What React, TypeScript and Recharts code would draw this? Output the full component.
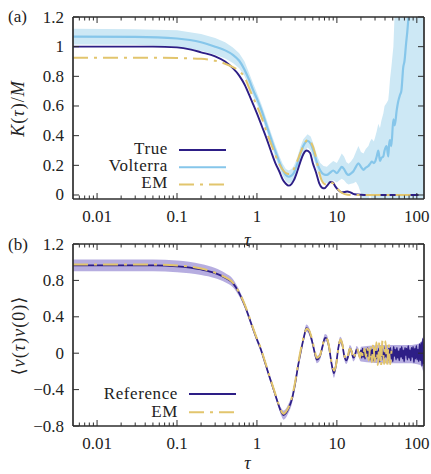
import React from 'react'
import { ComposedChart, Line, Area, XAxis, YAxis } from 'recharts'

// ---------- panel (a): kernel K(tau)/M ----------
const tauTrue = [0.005, 0.05, 0.1, 0.15, 0.2, 0.3, 0.4, 0.5, 0.6, 0.7, 0.8, 0.9, 1.0, 1.15, 1.3, 1.5, 1.7, 1.9, 2.1, 2.3, 2.5, 2.7, 2.9, 3.2, 3.5, 3.8, 4.2, 4.6, 5.0, 5.5, 6.0, 6.5, 7.0, 7.6, 8.3, 8.9, 9.5, 10.5, 11.5, 12.5, 13.5, 14.5, 16, 18, 22, 40, 70, 105]
const kTrue = [1.0, 1.0, 0.995, 0.98, 0.962, 0.935, 0.9, 0.855, 0.805, 0.745, 0.675, 0.61, 0.55, 0.465, 0.39, 0.295, 0.215, 0.16, 0.105, 0.076, 0.063, 0.074, 0.1, 0.16, 0.225, 0.275, 0.3, 0.285, 0.215, 0.15, 0.08, 0.05, 0.045, 0.065, 0.088, 0.085, 0.06, 0.032, 0.018, 0.02, 0.024, 0.02, 0.008, 0.003, 0, 0, 0, 0]

const tauVolterra = [0.005, 0.03, 0.1, 0.2, 0.3, 0.4, 0.5, 0.6, 0.7, 0.8, 0.9, 1.0, 1.15, 1.3, 1.5, 1.7, 1.9, 2.1, 2.3, 2.5, 2.7, 2.9, 3.2, 3.5, 3.8, 4.3, 4.7, 5.2, 5.7, 6.2, 6.8, 7.5, 8.2, 9.0, 10.0, 10.8, 11.5, 12.3, 13.2, 14.0, 15.0, 16.1, 17.3, 18.6, 20, 21.5, 23, 24.8, 26, 27.3, 29, 30.1, 31.5, 33, 34.6, 36, 38.1, 39.5, 41.9, 43.9, 45, 46.2, 48, 50.9, 53, 56, 58, 61.6, 64, 67.8, 70, 73.4, 76, 78.5, 82]
const kVolterra = [1.068, 1.066, 1.055, 1.03, 1.0, 0.975, 0.945, 0.905, 0.845, 0.775, 0.705, 0.65, 0.565, 0.48, 0.38, 0.295, 0.225, 0.17, 0.135, 0.123, 0.13, 0.15, 0.21, 0.28, 0.33, 0.365, 0.345, 0.28, 0.21, 0.165, 0.14, 0.135, 0.15, 0.165, 0.148, 0.17, 0.19, 0.175, 0.145, 0.135, 0.145, 0.16, 0.19, 0.214, 0.19, 0.17, 0.185, 0.196, 0.21, 0.225, 0.215, 0.225, 0.26, 0.3, 0.23, 0.25, 0.26, 0.3, 0.33, 0.26, 0.34, 0.37, 0.33, 0.51, 0.47, 0.57, 0.62, 0.674, 0.7, 0.865, 0.9, 1.02, 1.1, 1.19, 1.3]

const tauVolterraBand = [0.005, 0.03, 0.1, 0.2, 0.3, 0.4, 0.5, 0.6, 0.7, 0.8, 0.9, 1.0, 1.15, 1.3, 1.5, 1.7, 1.9, 2.1, 2.3, 2.5, 2.7, 2.9, 3.2, 3.5, 3.8, 4.3, 4.7, 5.2, 5.7, 6.2, 6.8, 7.5, 8.2, 9.0, 10.0, 10.8, 11.5, 12.3, 13.2, 14.0, 15.0, 16.1, 17.3, 18.6, 20, 21.5, 23, 24.8, 26, 27.3, 29, 30.1, 31.5, 33, 34.6, 36, 38.1, 39.5, 41.9, 43.9, 45, 46.2, 48, 50.9, 53, 56, 58, 61.6, 64, 67.8, 70, 73.4, 76, 78.5, 82, 90, 100, 110, 123]
const volterraLo = [1.015, 1.013, 1.0, 0.972, 0.945, 0.92, 0.89, 0.855, 0.8, 0.73, 0.66, 0.61, 0.525, 0.44, 0.34, 0.255, 0.185, 0.13, 0.092, 0.078, 0.085, 0.105, 0.165, 0.235, 0.285, 0.32, 0.3, 0.235, 0.16, 0.11, 0.085, 0.08, 0.09, 0.1, 0.085, 0.1, 0.11, 0.1, 0.08, 0.07, 0.075, 0.08, 0.09, 0.06, 0.01, -0.05, -0.05, -0.05, 0.02, -0.05, -0.05, -0.05, -0.05, -0.05, -0.05, -0.05, -0.05, -0.05, -0.05, -0.05, -0.05, -0.05, -0.05, -0.05, -0.05, -0.05, -0.05, -0.05, -0.05, -0.05, -0.05, -0.05, -0.05, -0.05, -0.05, -0.05, -0.05, -0.05, -0.05]
const volterraHi = [1.12, 1.118, 1.11, 1.085, 1.058, 1.03, 0.995, 0.955, 0.9, 0.82, 0.75, 0.69, 0.605, 0.52, 0.42, 0.335, 0.265, 0.21, 0.175, 0.165, 0.175, 0.195, 0.255, 0.325, 0.375, 0.41, 0.395, 0.33, 0.26, 0.215, 0.195, 0.19, 0.21, 0.23, 0.215, 0.25, 0.28, 0.26, 0.22, 0.21, 0.225, 0.25, 0.29, 0.33, 0.29, 0.28, 0.31, 0.33, 0.36, 0.38, 0.36, 0.39, 0.43, 0.48, 0.45, 0.5, 0.55, 0.6, 0.62, 0.64, 0.7, 0.78, 0.86, 1.0, 1.25, 1.3, 1.3, 1.3, 1.3, 1.3, 1.3, 1.3, 1.3, 1.3, 1.3, 1.3, 1.3, 1.3, 1.3]

const tauEMa = [0.005, 0.05, 0.1, 0.2, 0.3, 0.4, 0.5, 0.6, 0.7, 0.8, 0.9, 1.0, 1.15, 1.3, 1.5, 1.7, 1.9, 2.1, 2.3, 2.5, 2.7, 2.9, 3.2, 3.5, 3.8, 4.4, 4.8, 5.3, 5.8, 6.2, 6.8, 7.5, 8.3, 8.9, 9.6, 10.5, 11.5, 12.5, 15, 40, 95]
const kEMa = [0.925, 0.925, 0.923, 0.918, 0.905, 0.885, 0.862, 0.835, 0.795, 0.72, 0.655, 0.6, 0.52, 0.435, 0.345, 0.27, 0.21, 0.17, 0.148, 0.142, 0.15, 0.175, 0.23, 0.285, 0.33, 0.375, 0.35, 0.285, 0.19, 0.125, 0.08, 0.07, 0.083, 0.08, 0.055, 0.034, 0.015, 0.006, 0, 0, 0]

// ---------- panel (b): velocity autocorrelation ----------
const tauRef = [0.005, 0.05, 0.1, 0.2, 0.3, 0.4, 0.5, 0.6, 0.7, 0.8, 0.9, 1.0, 1.1, 1.25, 1.4, 1.55, 1.7, 1.85, 2.0, 2.15, 2.3, 2.5, 2.75, 3.0, 3.3, 3.6, 3.9, 4.15, 4.5, 4.9, 5.3, 5.6, 6.1, 6.6, 7.1, 7.5, 8.0, 8.6, 9.2, 9.8, 10.4, 11.0, 11.6, 12.3, 13.1, 13.8, 14.5, 15.3, 16.0, 16.8, 17.6, 18.5, 19.4]
const vRef = [0.965, 0.965, 0.955, 0.92, 0.88, 0.83, 0.77, 0.66, 0.53, 0.39, 0.26, 0.15, 0.06, -0.09, -0.23, -0.35, -0.46, -0.56, -0.64, -0.68, -0.66, -0.6, -0.5, -0.34, -0.12, 0.05, 0.19, 0.275, 0.24, 0.13, 0.0, -0.07, -0.04, 0.07, 0.17, 0.16, 0.06, -0.12, -0.22, -0.12, 0.05, 0.14, 0.11, -0.02, -0.08, -0.04, 0.05, 0.02, -0.05, -0.03, 0.04, 0.02, -0.04]

const tauRefNoise = [20.0, 20.5, 21.0, 21.5, 22.0, 22.5, 23.0, 23.6, 24.2, 24.8, 25.4, 26.0, 26.6, 27.2, 27.9, 28.5, 29.2, 29.9, 30.6, 31.3, 32.1, 32.8, 33.6, 34.4, 35.2, 36.0, 36.9, 37.8, 38.7, 39.6, 40.5, 41.5, 42.5, 43.5, 44.5, 45.6, 46.7, 47.8, 48.9, 50.1, 51.3, 52.5, 53.7, 55.0, 56.3, 57.6, 59.0, 60.4, 61.8, 63.3, 64.8, 66.3, 67.9, 69.5, 71.1, 72.8, 74.5, 76.3, 78.1, 80.0, 81.9, 83.8, 85.8, 87.8, 89.9, 92.0, 94.2, 96.4, 98.7, 101, 103.4, 105.8, 108.3, 110.9, 113.5, 116.2, 119, 121.8]
const vRefNoise = [0.03, -0.05, 0.05, -0.04, 0.02, -0.06, 0.04, -0.03, 0.06, -0.05, 0.01, -0.07, 0.05, -0.02, 0.04, -0.08, 0.03, -0.04, 0.07, -0.06, 0.02, -0.05, 0.05, -0.09, 0.04, -0.03, 0.06, -0.07, 0.01, -0.05, 0.08, -0.04, 0.03, -0.08, 0.05, -0.02, 0.06, -0.06, 0.02, -0.09, 0.07, -0.03, 0.04, -0.07, 0.06, -0.05, 0.02, -0.08, 0.05, -0.04, 0.07, -0.06, 0.03, -0.09, 0.06, -0.02, 0.05, -0.07, 0.08, -0.05, 0.03, -0.08, 0.06, -0.04, 0.07, -0.1, 0.05, -0.06, 0.08, -0.07, 0.04, -0.09, 0.1, -0.08, 0.12, -0.14, 0.16, -0.12]

const tauRefBand = [0.005, 0.05, 0.1, 0.2, 0.3, 0.4, 0.5, 0.6, 0.7, 0.8, 0.9, 1.0, 1.1, 1.25, 1.4, 1.55, 1.7, 1.85, 2.0, 2.15, 2.3, 2.5, 2.75, 3.0, 3.3, 3.6, 3.9, 4.15, 4.5, 4.9, 5.3, 5.6, 6.1, 6.6, 7.1, 7.5, 8.0, 8.6, 9.2, 9.8, 10.4, 11.0, 11.6, 12.3, 13.1, 13.8, 14.5, 15.3, 16.0, 16.8, 17.6, 18.5, 19.4, 20, 40, 80, 110, 121.8]
const refLo = [0.9, 0.9, 0.89, 0.86, 0.825, 0.78, 0.725, 0.625, 0.5, 0.36, 0.23, 0.12, 0.03, -0.12, -0.26, -0.38, -0.49, -0.59, -0.68, -0.73, -0.71, -0.65, -0.55, -0.38, -0.16, 0.01, 0.15, 0.235, 0.2, 0.09, -0.04, -0.11, -0.08, 0.03, 0.13, 0.12, 0.02, -0.16, -0.27, -0.16, 0.01, 0.1, 0.07, -0.06, -0.12, -0.08, 0.01, -0.02, -0.09, -0.07, 0.0, -0.02, -0.08, -0.09, -0.11, -0.11, -0.13, -0.22]
const refHi = [1.03, 1.03, 1.02, 0.98, 0.935, 0.88, 0.815, 0.695, 0.56, 0.42, 0.29, 0.18, 0.09, -0.06, -0.2, -0.32, -0.43, -0.53, -0.6, -0.63, -0.61, -0.55, -0.45, -0.28, -0.08, 0.09, 0.23, 0.315, 0.28, 0.17, 0.04, -0.03, 0.0, 0.11, 0.21, 0.2, 0.1, -0.08, -0.17, -0.08, 0.09, 0.18, 0.15, 0.02, -0.04, 0.0, 0.09, 0.06, -0.01, 0.01, 0.08, 0.06, 0.0, 0.07, 0.09, 0.09, 0.11, 0.2]

const tauEMb = [0.005, 0.05, 0.1, 0.2, 0.3, 0.4, 0.5, 0.6, 0.7, 0.8, 0.9, 1.0, 1.1, 1.25, 1.4, 1.55, 1.7, 1.85, 2.0, 2.15, 2.3, 2.5, 2.75, 3.0, 3.3, 3.6, 3.9, 4.2, 4.5, 4.9, 5.3, 5.6, 6.1, 6.6, 7.1, 7.6, 8.1, 8.7, 9.3, 9.9, 10.5, 11.1, 11.7, 12.3, 13.1, 13.8, 14.5, 15.3, 16.0, 16.8, 17.6, 18.5, 19.4, 20.3, 21.2, 22.2, 23.1, 24.0, 25.1, 26.2, 27.4, 28.6, 29.9, 31.2, 32.6, 34.1, 35.6, 37.2, 38.9, 40.6, 42.4, 44.3, 46.3, 48.4]
const vEMb = [0.975, 0.975, 0.965, 0.93, 0.885, 0.835, 0.775, 0.665, 0.54, 0.4, 0.27, 0.16, 0.07, -0.08, -0.22, -0.34, -0.45, -0.55, -0.63, -0.665, -0.645, -0.59, -0.48, -0.32, -0.1, 0.07, 0.2, 0.27, 0.25, 0.15, 0.02, -0.05, -0.03, 0.08, 0.17, 0.15, 0.04, -0.13, -0.19, -0.1, 0.07, 0.15, 0.1, -0.01, -0.07, -0.02, 0.05, 0.02, -0.06, -0.02, 0.05, 0.02, -0.05, 0.04, -0.04, 0.05, -0.04, 0.06, -0.08, 0.09, -0.1, 0.11, -0.12, 0.12, -0.13, 0.13, -0.14, 0.14, -0.12, 0.13, -0.15, 0.1, -0.12, 0.05]

// ---------- axes ----------
const xMajor = [0.01, 0.1, 1, 10, 100]
const xMinor = [0.006, 0.007, 0.008, 0.009, 0.02, 0.03, 0.04, 0.05, 0.06, 0.07, 0.08, 0.09, 0.2, 0.3, 0.4, 0.5, 0.6, 0.7, 0.8, 0.9, 2, 3, 4, 5, 6, 7, 8, 9, 20, 30, 40, 50, 60, 70, 80, 90]
const yTicksA = [0, 0.2, 0.4, 0.6, 0.8, 1, 1.2]
const yTicksB = [-0.8, -0.4, 0, 0.4, 0.8, 1.2]

const X_DOMAIN: [number, number] = [0.005, 123]
const FONT = 'Liberation Serif, DejaVu Serif, serif'
const INK = '#222'
const FRAME = '#2e2e2e'
const NAVY = '#2d1e86'
const SKY = '#86c6ea'
const SKY_BAND = '#cde8f5'
const SAND = '#e2c56d'
const LILAC = '#a99fda'
const EM_DASH = '15 6 3 6'

type Val = number | [number, number]
type Row = { tau: number; [key: string]: Val }

function buildRows(parts: [string, number[], Val[]][]): Row[] {
  const map = new Map<number, Row>()
  for (const [key, taus, vals] of parts) {
    taus.forEach((t, i) => {
      if (i >= vals.length) return
      const row = map.get(t) ?? { tau: t }
      row[key] = vals[i]
      map.set(t, row)
    })
  }
  return [...map.values()].sort((a, b) => a.tau - b.tau)
}

const zip = (lo: number[], hi: number[]): [number, number][] => lo.map((v, i) => [v, hi[i]])

const rowsA = buildRows([
  ['band', tauVolterraBand, zip(volterraLo, volterraHi)],
  ['volterra', tauVolterra, kVolterra],
  ['truth', tauTrue, kTrue],
  ['em', tauEMa, kEMa],
])

const rowsB = buildRows([
  ['band', tauRefBand, zip(refLo, refHi)],
  ['ref', tauRef, vRef],
  ['ref', tauRefNoise, vRefNoise],
  ['em', tauEMb, vEMb],
])

const xAll = [...xMinor, ...xMajor].sort((a, b) => a - b)
const fmt = (v: number) => String(v).replace('-', '\u2212')

const labelStyle = { style: { fontFamily: FONT }, fontSize: 17, fill: INK }

function xTick(side: 'bottom' | 'top') {
  return (p: any) => {
    const v = p.payload.value
    const major = xMajor.includes(v)
    const len = major ? 6 : 3.5
    const dir = side === 'bottom' ? -1 : 1
    return (
      <g>
        <line x1={p.x} x2={p.x} y1={p.y} y2={p.y + dir * len} stroke={FRAME} strokeWidth={1} />
        {side === 'bottom' && major && (
          <text x={p.x} y={p.y + 22.5} textAnchor="middle" {...labelStyle}>
            {fmt(v)}
          </text>
        )}
      </g>
    )
  }
}

function yTick(side: 'left' | 'right') {
  return (p: any) => {
    const v = p.payload.value
    const dir = side === 'left' ? 1 : -1
    return (
      <g>
        <line x1={p.x} x2={p.x + dir * 6} y1={p.y} y2={p.y} stroke={FRAME} strokeWidth={1} />
        {side === 'left' && (
          <text x={p.x - 9} y={p.y + 5.5} textAnchor="end" {...labelStyle}>
            {fmt(v)}
          </text>
        )}
      </g>
    )
  }
}

const frameLine = { stroke: FRAME, strokeWidth: 1.7 }

function axes(yDomain: [number, number], yTicks: number[]) {
  const common = { tickLine: false, tickSize: 0, tickMargin: 0, interval: 0 as const, axisLine: frameLine, allowDataOverflow: true }
  return [
    <XAxis key="xb" dataKey="tau" type="number" scale="log" domain={X_DOMAIN} ticks={xAll} tick={xTick('bottom')} height={30} {...common} />,
    <XAxis key="xt" xAxisId="top" orientation="top" mirror dataKey="tau" type="number" scale="log" domain={X_DOMAIN} ticks={xAll} tick={xTick('top')} {...common} />,
    <YAxis key="yl" type="number" domain={yDomain} ticks={yTicks} tick={yTick('left')} width={73} {...common} />,
    <YAxis key="yr" yAxisId="right" orientation="right" mirror type="number" domain={yDomain} ticks={yTicks} tick={yTick('right')} {...common} />,
  ]
}

function PanelA() {
  return (
    <ComposedChart width={431} height={250} data={rowsA} margin={{ top: 17, right: 7, bottom: 21, left: 0 }}>
      {axes([-0.027, 1.2], yTicksA)}
      <Area dataKey="band" type="linear" stroke="none" fill={SKY_BAND} fillOpacity={1} connectNulls isAnimationActive={false} />
      <Line dataKey="volterra" type="monotone" stroke={SKY} strokeWidth={2.2} dot={false} connectNulls isAnimationActive={false} />
      <Line dataKey="truth" type="monotone" stroke={NAVY} strokeWidth={1.9} dot={false} connectNulls isAnimationActive={false} />
      <Line dataKey="em" type="monotone" stroke={SAND} strokeWidth={2} strokeDasharray={EM_DASH} dot={false} connectNulls isAnimationActive={false} />
    </ComposedChart>
  )
}

function PanelB() {
  return (
    <ComposedChart width={431} height={244} data={rowsB} margin={{ top: 14, right: 7, bottom: 18, left: 0 }}>
      {axes([-0.8, 1.2], yTicksB)}
      <Area dataKey="band" type="monotone" stroke="none" fill={LILAC} fillOpacity={0.85} connectNulls isAnimationActive={false} />
      <Line dataKey="ref" type="monotone" stroke={NAVY} strokeWidth={1.7} dot={false} connectNulls isAnimationActive={false} />
      <Line dataKey="em" type="monotone" stroke={SAND} strokeWidth={2} strokeDasharray={EM_DASH} dot={false} connectNulls isAnimationActive={false} />
    </ComposedChart>
  )
}

const legendA = [
  { label: 'True', color: NAVY, dash: undefined as string | undefined },
  { label: 'Volterra', color: SKY, dash: undefined },
  { label: 'EM', color: SAND, dash: EM_DASH },
]
const legendB = [
  { label: 'Reference', color: NAVY, dash: undefined as string | undefined },
  { label: 'EM', color: SAND, dash: EM_DASH },
]

function Overlay() {
  const it = { fontStyle: 'italic' as const }
  const spaced = { ...labelStyle, letterSpacing: 0.6 }
  const big = { ...labelStyle, fontSize: 18, letterSpacing: 1 }
  return (
    <svg width={431} height={474} style={{ position: 'absolute', left: 0, top: 0 }}>
      <text x={8} y={22} {...labelStyle}>(a)</text>
      <text x={8} y={250} {...labelStyle}>(b)</text>
      <text transform="translate(24 108.5) rotate(-90)" textAnchor="middle" {...big}>
        <tspan {...it}>K</tspan>(<tspan {...it}>τ</tspan>)/<tspan {...it}>M</tspan>
      </text>
      <text transform="translate(25 335.5) rotate(-90)" textAnchor="middle" {...big}>
        ⟨<tspan {...it}>v</tspan>(<tspan {...it}>τ</tspan>)<tspan {...it}>v</tspan>(0)⟩
      </text>
      <text x={248} y={246} textAnchor="middle" {...big} {...it}>τ</text>
      <text x={248} y={469} textAnchor="middle" {...big} {...it}>τ</text>
      {legendA.map((d, i) => (
        <g key={d.label}>
          <text x={168} y={154 + i * 17.2} textAnchor="end" {...spaced}>{d.label}</text>
          <line x1={179} x2={226} y1={150 + i * 17.2} y2={150 + i * 17.2} stroke={d.color} strokeWidth={2} strokeDasharray={d.dash} />
        </g>
      ))}
      {legendB.map((d, i) => (
        <g key={d.label}>
          <text x={178} y={398.5 + i * 18.3} textAnchor="end" {...spaced}>{d.label}</text>
          <line x1={189} x2={236} y1={394 + i * 18.3} y2={394 + i * 18.3} stroke={d.color} strokeWidth={2} strokeDasharray={d.dash} />
        </g>
      ))}
    </svg>
  )
}

export default function App() {
  return (
    <div style={{ position: 'absolute', left: 0, top: 0, width: 431, height: 474, background: '#fff' }}>
      <div style={{ position: 'absolute', left: 0, top: 0 }}>
        <PanelA />
      </div>
      <div style={{ position: 'absolute', left: 0, top: 230 }}>
        <PanelB />
      </div>
      <Overlay />
    </div>
  )
}
